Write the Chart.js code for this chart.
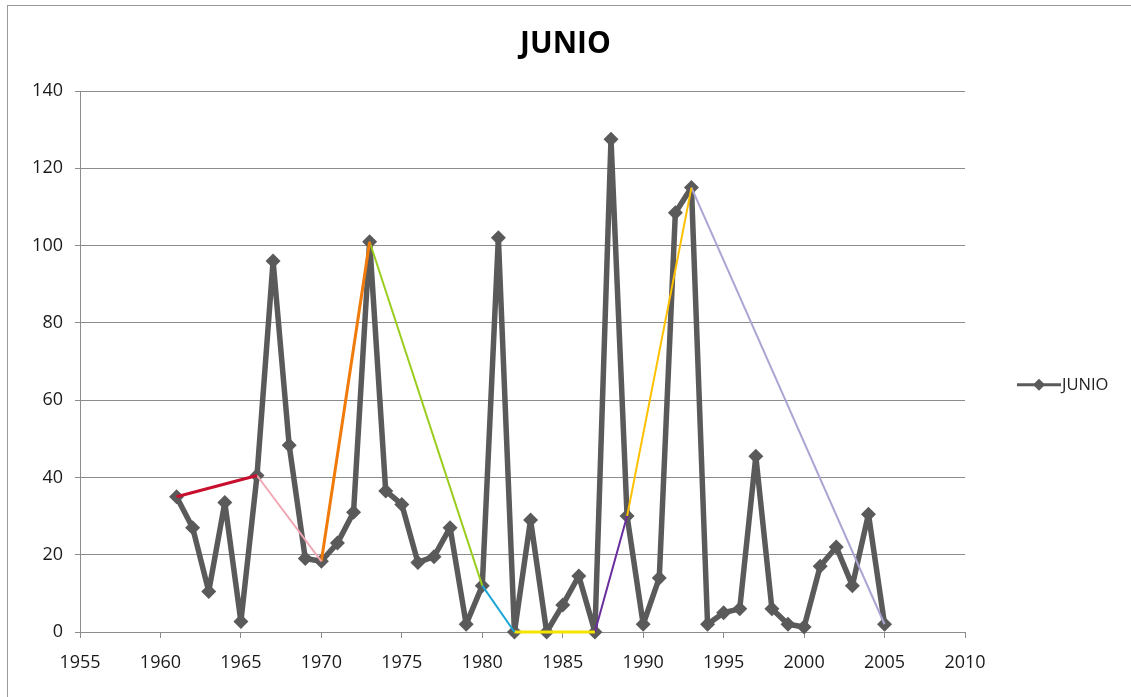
<!DOCTYPE html>
<html>
<head>
<meta charset="utf-8">
<script src="https://cdn.jsdelivr.net/npm/chart.js@4/dist/chart.umd.min.js"></script>
<style>
  html, body { margin: 0; padding: 0; background: #fff; }
  #wrap { position: relative; width: 1131px; height: 697px; overflow: hidden; }
  #frame { position: absolute; left: 7px; top: 5px; width: 1200px; height: 800px; border: 1px solid #9a9a9a; }
  #chart { position: absolute; left: 0; top: 0; }
</style>
</head>
<body>
<div id="wrap">
  <div id="frame"></div>
  <canvas id="chart" width="1131" height="697"></canvas>
</div>
<script>
// years and June values
const years = [1961, 1962, 1963, 1964, 1965, 1966, 1967, 1968, 1969, 1970,
               1971, 1972, 1973, 1974, 1975, 1976, 1977, 1978, 1979, 1980,
               1981, 1982, 1983, 1984, 1985, 1986, 1987, 1988, 1989, 1990,
               1991, 1992, 1993, 1994, 1995, 1996, 1997, 1998, 1999, 2000,
               2001, 2002, 2003, 2004, 2005];
const junio = [35, 27, 10.5, 33.5, 2.7, 40.5, 96, 48.3, 19, 18.3,
               23, 31, 101, 36.5, 33, 18, 19.5, 27, 2, 12,
               102, 0, 29, 0, 7, 14.5, 0, 127.5, 30, 2,
               14, 108.5, 115, 2, 5, 6, 45.5, 6, 2, 1.3,
               17, 22, 12, 30.5, 2];

// hand drawn segments between turning points
const turnYears = [1961, 1966, 1970, 1973, 1980, 1982, 1987, 1989, 1993, 2005];
const segColors = ['#c8102e', '#f2a7b5', '#f07a0a', '#9acd1e', '#1ba6d6',
                   '#f5e400', '#6a2d9c', '#ffc000', '#aaa6d4'];
const segWidths = [3, 2, 3, 2, 2, 3, 2, 2, 2];

const xTicks = [1955, 1960, 1965, 1970, 1975, 1980, 1985, 1990, 1995, 2000, 2005, 2010];
const yTicks = [0, 20, 40, 60, 80, 100, 120, 140];

const lineGray = '#5a5a5a';
const font = "'Open Sans', 'Liberation Sans', sans-serif";

function valueAt(year) {
    return junio[years.indexOf(year)];
}

const datasets = [{
    label: 'JUNIO',
    data: years.map((y, i) => ({ x: y, y: junio[i] })),
    borderColor: lineGray,
    backgroundColor: lineGray,
    borderWidth: 5.5,
    borderJoinStyle: 'round',
    pointStyle: 'rectRot',
    pointRadius: 7.5,
    pointBorderWidth: 0,
    tension: 0,
    clip: 10,
    order: 1
}];

for (let i = 0; i < segColors.length; i++) {
    datasets.push({
        label: 'seg' + i,
        data: [
            { x: turnYears[i], y: valueAt(turnYears[i]) },
            { x: turnYears[i + 1], y: valueAt(turnYears[i + 1]) }
        ],
        borderColor: segColors[i],
        borderWidth: segWidths[i],
        pointRadius: 0,
        tension: 0,
        clip: 10,
        order: 0
    });
}

// excel style legend: short line with a diamond, then the name
const sideLegend = {
    id: 'sideLegend',
    afterDraw(chart) {
        const ctx = chart.ctx;
        const a = chart.chartArea;
        const x0 = a.right + 52;
        const y = a.top + (a.bottom - a.top) * 0.543;
        ctx.save();
        ctx.strokeStyle = lineGray;
        ctx.lineWidth = 3;
        ctx.beginPath();
        ctx.moveTo(x0, y);
        ctx.lineTo(x0 + 44, y);
        ctx.stroke();
        ctx.fillStyle = lineGray;
        ctx.beginPath();
        ctx.moveTo(x0 + 22, y - 6);
        ctx.lineTo(x0 + 28, y);
        ctx.lineTo(x0 + 22, y + 6);
        ctx.lineTo(x0 + 16, y);
        ctx.closePath();
        ctx.fill();
        ctx.fillStyle = '#222';
        ctx.font = '16.5px ' + font;
        ctx.textBaseline = 'middle';
        ctx.fillText('JUNIO', x0 + 45, y + 1);
        ctx.restore();
    }
};

const ctx = document.getElementById('chart');

const config = {
    type: 'line',
    data: { datasets: datasets },
    plugins: [sideLegend],
    options: {
        responsive: false,
        animation: false,
        layout: { padding: 0 },
        plugins: {
            legend: { display: false },
            tooltip: { enabled: false },
            title: {
                display: true,
                text: 'JUNIO',
                color: '#000',
                font: { family: font, size: 30, weight: 'bold' },
                padding: { top: 26, bottom: 29 }
            }
        },
        scales: {
            x: {
                type: 'linear',
                min: 1955,
                max: 2010,
                afterBuildTicks: (scale) => { scale.ticks = xTicks.map(v => ({ value: v })); },
                afterFit: (scale) => { scale.height = 65; },
                ticks: {
                    color: '#1a1a1a',
                    font: { family: font, size: 18 },
                    padding: 14,
                    maxRotation: 0,
                    callback: (v) => String(v)
                },
                grid: { drawOnChartArea: false, drawTicks: true, tickLength: 6, color: '#8c8c8c' },
                border: { display: true, color: '#8c8c8c', width: 1 }
            },
            y: {
                min: 0,
                max: 140,
                afterBuildTicks: (scale) => { scale.ticks = yTicks.map(v => ({ value: v })); },
                afterFit: (scale) => { scale.width = 80; },
                ticks: {
                    color: '#1a1a1a',
                    font: { family: font, size: 18 },
                    padding: 12
                },
                grid: { drawOnChartArea: true, drawTicks: true, tickLength: 5, color: '#8c8c8c', lineWidth: 1 },
                border: { display: true, color: '#8c8c8c', width: 1 }
            },
            // empty right axis that only reserves room for the legend
            side: {
                position: 'right',
                min: 0,
                max: 1,
                afterFit: (scale) => { scale.width = 166; },
                ticks: { display: false },
                grid: { display: false, drawTicks: false },
                border: { display: false }
            }
        }
    }
};

let myChart = new Chart(ctx, config);
</script>
</body>
</html>
